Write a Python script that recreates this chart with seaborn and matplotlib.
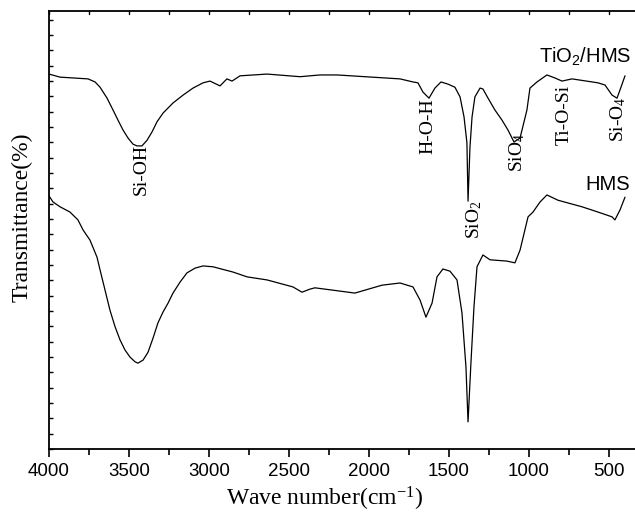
import matplotlib
matplotlib.use("Agg")
import matplotlib.pyplot as plt
from matplotlib.ticker import MultipleLocator, NullFormatter
import seaborn as sns
import pandas as pd

# TiO2/HMS spectrum (wavenumber cm-1, transmittance a.u.)
tio2_wn = [4000, 3931, 3756, 3712, 3681, 3637, 3600, 3569, 3537, 3506, 3475, 3450,
           3419, 3387, 3356, 3325, 3287, 3225, 3162, 3100, 3037, 2994, 2931, 2888,
           2856, 2806, 2637, 2431, 2306, 2200, 1806, 1725, 1694, 1663, 1625, 1588,
           1550, 1506, 1463, 1431, 1406, 1388, 1381, 1369, 1356, 1338, 1306, 1288,
           1256, 1213, 1169, 1131, 1094, 1056, 1013, 994, 950, 888, 837, 794, 731,
           569, 525, 481, 450, 431, 400]
tio2_t = [85.6, 84.9, 84.5, 83.8, 82.6, 80.1, 77.4, 75.1, 72.8, 71.0, 69.6, 69.2,
          69.2, 70.5, 72.4, 74.7, 76.7, 79.0, 80.8, 82.4, 83.6, 84.0, 82.9, 84.5,
          84.0, 85.2, 85.6, 85.0, 85.4, 85.4, 84.5, 83.8, 83.6, 81.5, 80.1, 82.4,
          83.8, 83.3, 82.6, 80.4, 75.8, 69.9, 56.6, 68.9, 75.8, 80.4, 82.4, 82.2,
          80.1, 77.4, 75.1, 72.8, 70.1, 71.0, 77.4, 82.4, 83.8, 85.4, 84.7, 84.0, 84.5,
          83.6, 83.1, 80.8, 80.1, 82.0, 85.2]

# HMS spectrum
hms_wn = [4000, 3975, 3931, 3869, 3819, 3787, 3744, 3700, 3681, 3650, 3619, 3587,
          3556, 3525, 3494, 3462, 3444, 3412, 3381, 3350, 3319, 3287, 3256, 3225,
          3181, 3138, 3087, 3037, 2975, 2850, 2762, 2637, 2475, 2419, 2369, 2338,
          2088, 1919, 1806, 1725, 1681, 1644, 1606, 1575, 1538, 1494, 1450, 1419,
          1394, 1381, 1363, 1344, 1325, 1288, 1244, 1138, 1088, 1056, 1006, 975,
          931, 888, 819, 669, 569, 481, 463, 431, 400]
hms_t = [57.8, 56.4, 55.3, 54.1, 52.3, 50.0, 47.7, 43.8, 40.9, 36.3, 31.7, 27.9,
         24.9, 22.6, 21.0, 19.9, 19.6, 20.3, 22.1, 25.3, 28.8, 31.3, 33.3, 35.6,
         38.1, 40.2, 41.3, 41.8, 41.6, 40.4, 39.3, 38.6, 37.0, 35.8, 36.5, 36.8,
         35.6, 37.4, 37.9, 37.0, 34.0, 30.1, 33.3, 39.3, 41.1, 40.6, 38.6, 31.1,
         18.7, 6.2, 19.6, 32.4, 41.6, 44.3, 43.2, 42.9, 42.5, 45.4, 53.0, 54.1,
         56.4, 58.0, 56.8, 55.3, 54.1, 53.0, 52.3, 54.6, 57.5]

# Band annotations: label, wavenumber, top of text (transmittance)
band_labels = ["Si-OH", "H-O-H", "SiO$\\mathregular{_2}$", "SiO$\\mathregular{_4}$",
               "Ti-O-Si", "Si-O$\\mathregular{_4}$"]
band_wn = [3425, 1631, 1344, 1075, 781, 444]
band_top = [69.6, 80.1, 56.8, 72.1, 83.1, 80.4]

series_names = ["TiO$\\mathregular{_2}$/HMS", "HMS"]
series_label_wn = [935, 645]
series_label_t = [88.1, 59.1]

xticks = [4000, 3500, 3000, 2500, 2000, 1500, 1000, 500]

sns.set_style("ticks")
plt.rcParams['font.family'] = ['Liberation Sans', 'DejaVu Sans']
plt.rcParams['text.color'] = 'black'
plt.rcParams['axes.labelcolor'] = 'black'
plt.rcParams['xtick.color'] = 'black'
plt.rcParams['ytick.color'] = 'black'

df = pd.concat([
    pd.DataFrame({"wn": tio2_wn, "t": tio2_t, "s": "TiO2/HMS"}),
    pd.DataFrame({"wn": hms_wn, "t": hms_t, "s": "HMS"}),
])

fig = plt.figure(figsize=(6.35, 5.12), dpi=100)
ax = fig.add_axes([49/635, 63/512, 586/635, 438/512])

sns.lineplot(data=df, x="wn", y="t", units="s", estimator=None, color="black",
             linewidth=0.9, ax=ax, legend=False)

ax.set_xlim(4000, 337.5)
ax.set_ylim(0, 100)

ax.set_xticks(xticks)
ax.set_xticklabels([str(v) for v in xticks], fontsize=13.5, family='Liberation Sans',
                   color='black')
ax.xaxis.set_minor_locator(MultipleLocator(250))
ax.yaxis.set_minor_locator(MultipleLocator(3.5))
ax.set_yticks([])
ax.yaxis.set_minor_formatter(NullFormatter())

ax.tick_params(axis='x', which='major', direction='out', length=6, width=1.2, pad=4,
               bottom=True, top=False, colors='black')
ax.tick_params(axis='x', which='minor', direction='out', length=4, width=1.2,
               bottom=True, top=False, colors='black')
ax.tick_params(axis='y', which='minor', direction='in', length=3, width=1.0, left=True,
               right=False, colors='black')

# top inward ticks every 250
for v in range(4000, 337, -250):
    ax.plot([v, v], [100, 99.3], color='black', lw=1.0, clip_on=False)

for sp in ['left', 'bottom', 'top']:
    ax.spines[sp].set_linewidth(1.3)
    ax.spines[sp].set_color('black')
ax.spines['right'].set_visible(False)

for lab, w, t in zip(band_labels, band_wn, band_top):
    ax.text(w, t, lab, rotation=90, ha='center', va='top', fontsize=14,
            family='Liberation Serif', color='black')

for lab, w, t in zip(series_names, series_label_wn, series_label_t):
    ax.text(w, t, lab, ha='left', va='baseline', fontsize=14.5, family='Liberation Sans',
            color='black')

ax.set_xlabel("Wave number(cm$\\mathregular{^{-1}}$)", fontsize=17, family='Liberation Serif',
              va='baseline', color='black')
ax.xaxis.set_label_coords(0.471, -0.130)
ax.set_ylabel("Transmittance(%)", fontsize=17, family='Liberation Serif', va='center',
              color='black')
ax.yaxis.set_label_coords(-0.046, 0.530)

fig.savefig("out.png", dpi=100)
